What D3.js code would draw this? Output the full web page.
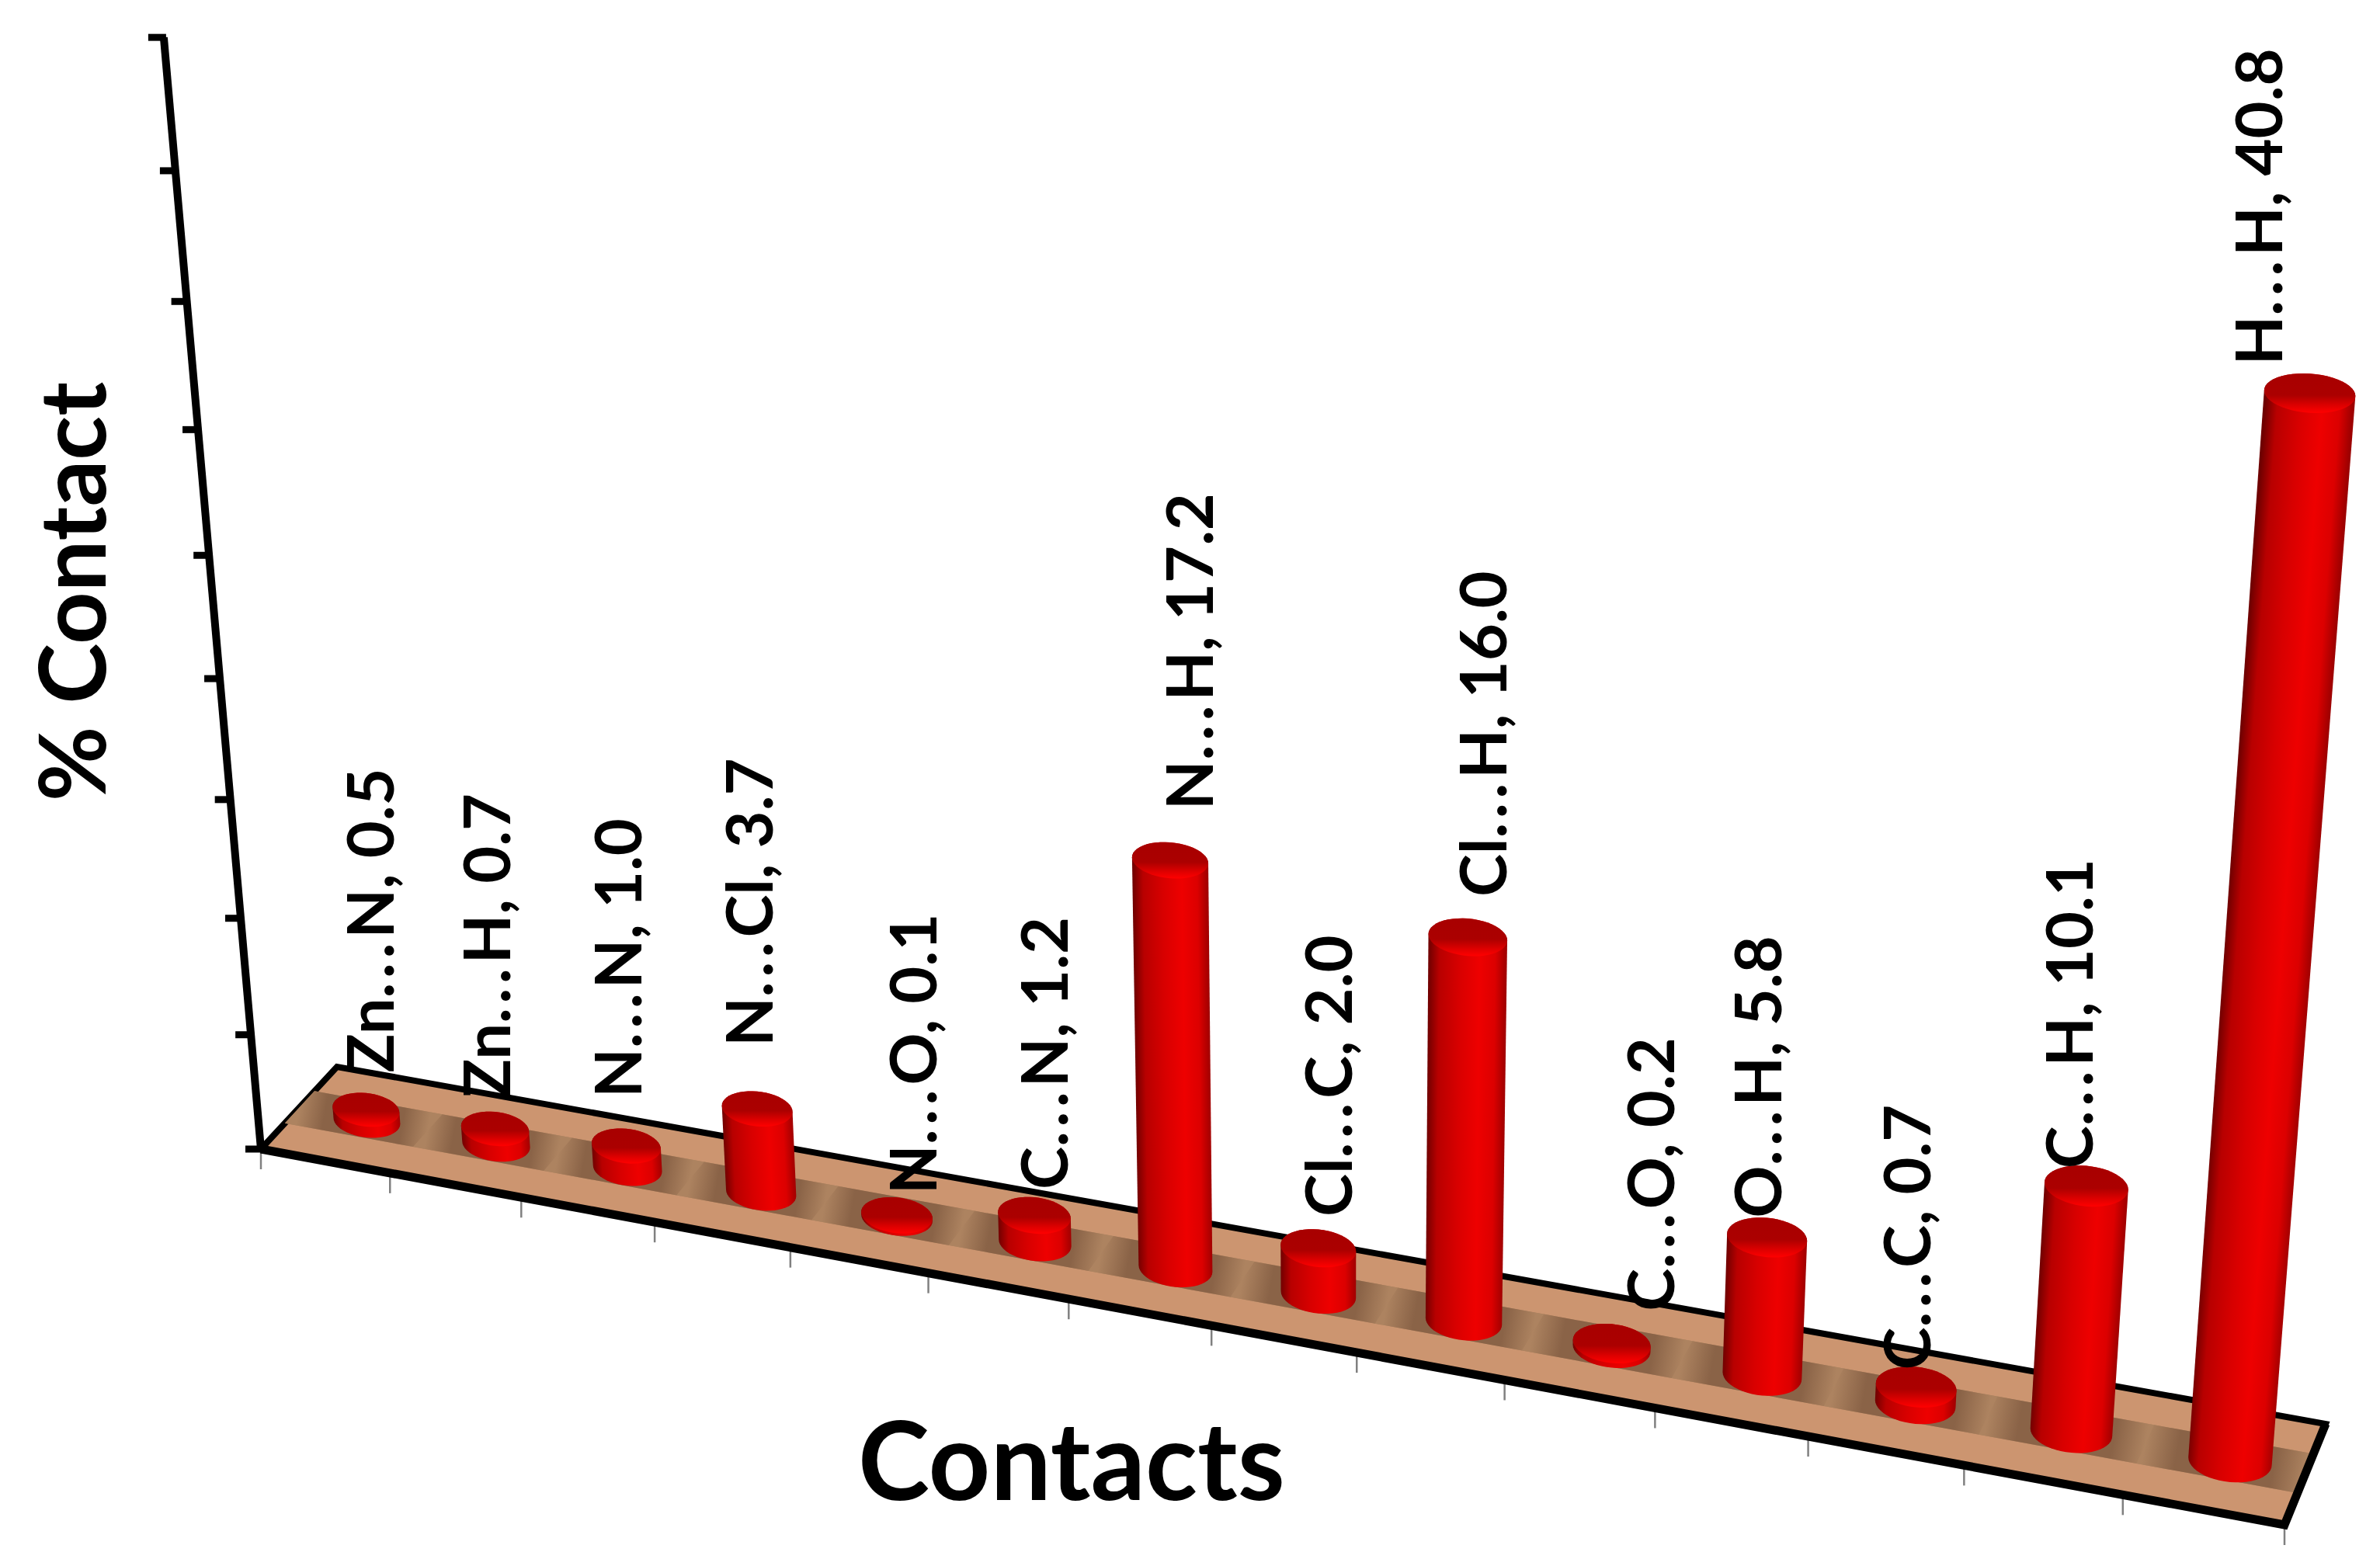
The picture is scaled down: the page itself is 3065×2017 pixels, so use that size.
<!DOCTYPE html>
<html>
<head>
<meta charset="utf-8">
<script src="https://cdnjs.cloudflare.com/ajax/libs/d3/7.8.5/d3.min.js"></script>
<style>
  html, body { margin: 0; padding: 0; background: #fff; }
  text { font-family: Lato, "Open Sans", sans-serif; font-weight: 700; fill: #000; }
</style>
</head>
<body>
<div id="chart"></div>
<script>
// Contact percentages
const categories = ['Zn...N', 'Zn...H', 'N...N', 'N...Cl', 'N...O', 'C...N', 'N...H', 'Cl...C', 'Cl...H', 'C...O', 'O...H', 'C...C', 'C...H', 'H...H'];
const values = [0.5, 0.7, 1.0, 3.7, 0.1, 1.2, 17.2, 2.0, 16.0, 0.2, 5.8, 0.7, 10.1, 40.8];
const yDomain = [0, 45];

// Label nudges relative to the top of each column (px)
const labelDx = [6, -10, -10, -10, 21, 13, 25, 13, 20, 50, -12, -12, -22, -65];
const labelDy = [-244, -236, -242, -266, -208, -209, -269, -222, -262, -218, -207, -193, -222, -240];

const width = 3065;
const height = 2017;

// Floor corners and vertical vanishing point on the page
const floorFL = [336, 1480];
const floorBL = [434, 1374];
const floorBR = [2995, 1834];
const floorFR = [2942, 1964];
const vanish = [1720, 17320];
const heightK = -0.0829;

// Square to quad homography
function floorMatrix(p00, p10, p11, p01) {
  const dx1 = p10[0] - p11[0], dx2 = p01[0] - p11[0], sx = p00[0] - p10[0] + p11[0] - p01[0];
  const dy1 = p10[1] - p11[1], dy2 = p01[1] - p11[1], sy = p00[1] - p10[1] + p11[1] - p01[1];
  const det = dx1 * dy2 - dx2 * dy1;
  const g = (sx * dy2 - dx2 * sy) / det;
  const h = (dx1 * sy - sx * dy1) / det;
  return {
    a: p10[0] - p00[0] + g * p10[0], b: p01[0] - p00[0] + h * p01[0], c: p00[0],
    d: p10[1] - p00[1] + g * p10[1], e: p01[1] - p00[1] + h * p01[1], f: p00[1],
    g, h
  };
}
const M = floorMatrix(floorFL, floorFR, floorBR, floorBL);

// u along the categories, v into the depth, t up the value axis (all 0..1)
function project(u, v, t) {
  const k = t * heightK;
  const w = M.g * u + M.h * v + 1 + k;
  return [
    (M.a * u + M.b * v + M.c + k * vanish[0]) / w,
    (M.d * u + M.e * v + M.f + k * vanish[1]) / w
  ];
}

const x = d3.scaleBand().domain(categories).range([0, 1]);
const y = d3.scaleLinear().domain(yDomain).range([0, 1]);

const svg = d3.select('#chart').append('svg')
  .attr('width', width)
  .attr('height', height)
  .style('display', 'block');
const defs = svg.append('defs');

const line = d3.line();
const closed = d3.line().curve(d3.curveLinearClosed);

// Category ticks under the floor
const boundaries = categories.map(d => x(d)).concat([1]);
svg.append('g').selectAll('line')
  .data(boundaries)
  .join('line')
  .attr('x1', d => project(d, 0, 0)[0])
  .attr('y1', d => project(d, 0, 0)[1])
  .attr('x2', d => project(d, 0, 0)[0])
  .attr('y2', d => project(d, 0, 0)[1] + 26)
  .attr('stroke', '#808080')
  .attr('stroke-width', 2.5);

// Floor
svg.append('path')
  .attr('d', closed([project(0, 0, 0), project(1, 0, 0), project(1, 1, 0), project(0, 1, 0)]))
  .attr('fill', '#cc9570')
  .attr('stroke', '#000')
  .attr('stroke-width', 8)
  .attr('stroke-linejoin', 'miter');

// Shaded strip down the middle of the floor
const stripV = [0.31, 0.7];
svg.append('path')
  .attr('d', closed([project(0, stripV[0], 0), project(1, stripV[0], 0), project(1, stripV[1], 0), project(0, stripV[1], 0)]))
  .attr('fill', '#ad8360');

categories.forEach((c, i) => {
  const u0 = x(c), u1 = u0 + x.bandwidth();
  const a = project(u0, 0.5, 0), b = project(u1, 0.5, 0);
  const grad = defs.append('linearGradient')
    .attr('id', 'strip' + i)
    .attr('gradientUnits', 'userSpaceOnUse')
    .attr('x1', a[0]).attr('y1', a[1]).attr('x2', b[0]).attr('y2', b[1]);
  [[0, '#ad8360'], [0.2, '#8a6347'], [0.8, '#8a6347'], [1, '#ad8360']].forEach(s => {
    grad.append('stop').attr('offset', s[0]).attr('stop-color', s[1]);
  });
  svg.append('path')
    .attr('d', closed([project(u0, stripV[0], 0), project(u1, stripV[0], 0), project(u1, stripV[1], 0), project(u0, stripV[1], 0)]))
    .attr('fill', `url(#strip${i})`);
});

// Heavier front and right edge of the floor
svg.append('path')
  .attr('d', line([project(0, 0, 0), project(1, 0, 0), project(1, 1, 0)]))
  .attr('fill', 'none')
  .attr('stroke', '#000')
  .attr('stroke-width', 11);

// Value axis
svg.append('path')
  .attr('d', line([project(0, 0, 0), project(0, 0, 1)]))
  .attr('stroke', '#000')
  .attr('stroke-width', 10)
  .attr('fill', 'none');
svg.append('g').selectAll('line')
  .data(y.ticks(9))
  .join('line')
  .attr('x1', d => project(0, 0, y(d))[0] - 20)
  .attr('y1', d => project(0, 0, y(d))[1])
  .attr('x2', d => project(0, 0, y(d))[0] + 3)
  .attr('y2', d => project(0, 0, y(d))[1])
  .attr('stroke', '#000')
  .attr('stroke-width', 9);

// Cap shading
const capGrad = defs.append('linearGradient')
  .attr('id', 'cap')
  .attr('x1', 0).attr('y1', 0).attr('x2', 0).attr('y2', 1);
[[0, '#a80000'], [0.55, '#ab0000'], [0.82, '#e00000'], [1, '#ff0000']].forEach(s => {
  capGrad.append('stop').attr('offset', s[0]).attr('stop-color', s[1]);
});

// Columns
const radiusU = 0.0186;
const columnV = 0.49;
const columnShift = 0.0025;
const columnScale = 0.979;
const tiltAmount = 0.5;

function ellipsePoints(cu, t) {
  const c = project(cu, columnV, t);
  const l = project(cu - radiusU, columnV, t);
  const r = project(cu + radiusU, columnV, t);
  const ax = (r[0] - l[0]) / 2, ay = (r[1] - l[1]) / 2 * tiltAmount;
  const ry = Math.hypot(ax, ay) * (0.5 - 0.08 * t);
  return d3.range(48).map(i => {
    const a = i / 48 * 2 * Math.PI;
    return [c[0] + Math.cos(a) * ax, c[1] + Math.cos(a) * ay + Math.sin(a) * ry];
  });
}

const columns = svg.append('g');
categories.forEach((c, i) => {
  const cu = x(c) + x.bandwidth() / 2 + columnShift;
  const t = y(values[i]) * columnScale;
  const base = project(cu, columnV, 0);
  const top = project(cu, columnV, t);

  // shading runs across the column, also when it leans
  const r0 = project(cu - radiusU, columnV, t / 2);
  const r1 = project(cu + radiusU, columnV, t / 2);
  const axisLen = Math.hypot(top[0] - base[0], top[1] - base[1]) || 1;
  const nx = (base[1] - top[1]) / axisLen;
  const ny = (top[0] - base[0]) / axisLen;
  const mid = [(r0[0] + r1[0]) / 2, (r0[1] + r1[1]) / 2];
  const half = Math.hypot(r1[0] - r0[0], r1[1] - r0[1]) / 2;
  const grad = defs.append('linearGradient')
    .attr('id', 'body' + i)
    .attr('gradientUnits', 'userSpaceOnUse')
    .attr('x1', mid[0] - half * nx).attr('y1', mid[1] - half * ny)
    .attr('x2', mid[0] + half * nx).attr('y2', mid[1] + half * ny);
  [[0, '#6e0000'], [0.14, '#b80000'], [0.4, '#d80000'], [0.65, '#ee0000'], [0.85, '#dc0000'], [1, '#9c0000']].forEach(s => {
    grad.append('stop').attr('offset', s[0]).attr('stop-color', s[1]);
  });

  const topPts = ellipsePoints(cu, t);
  columns.append('path')
    .attr('d', closed(d3.polygonHull(ellipsePoints(cu, 0).concat(topPts))))
    .attr('fill', `url(#body${i})`);
  columns.append('path')
    .attr('d', closed(topPts))
    .attr('fill', 'url(#cap)');
});

// Data labels, the dots are set a little wider than the font has them
const labels = svg.append('g').selectAll('text')
  .data(categories)
  .join('text')
  .attr('transform', (d, i) => {
    const p = project(x(d) + x.bandwidth() / 2 + columnShift, columnV, y(values[i]) * columnScale);
    return `translate(${p[0] + labelDx[i]},${p[1] + labelDy[i]}) rotate(-90)`;
  })
  .attr('text-anchor', 'middle')
  .attr('dy', '0.36em')
  .style('font-size', '83px');
labels.each(function(d, i) {
  const parts = d.split('...');
  const t = d3.select(this);
  t.append('tspan').text(parts[0]);
  t.append('tspan').style('letter-spacing', '0.07em').text('...');
  t.append('tspan').text(`${parts[1]}, ${values[i].toFixed(1)}`);
});

// Axis titles
svg.append('text')
  .attr('transform', 'translate(136,762) rotate(-90)')
  .attr('text-anchor', 'middle')
  .style('font-size', '118px')
  .text('% Contact');
svg.append('text')
  .attr('x', 1380)
  .attr('y', 1932)
  .attr('text-anchor', 'middle')
  .style('font-size', '139px')
  .text('Contacts');
</script>
</body>
</html>
